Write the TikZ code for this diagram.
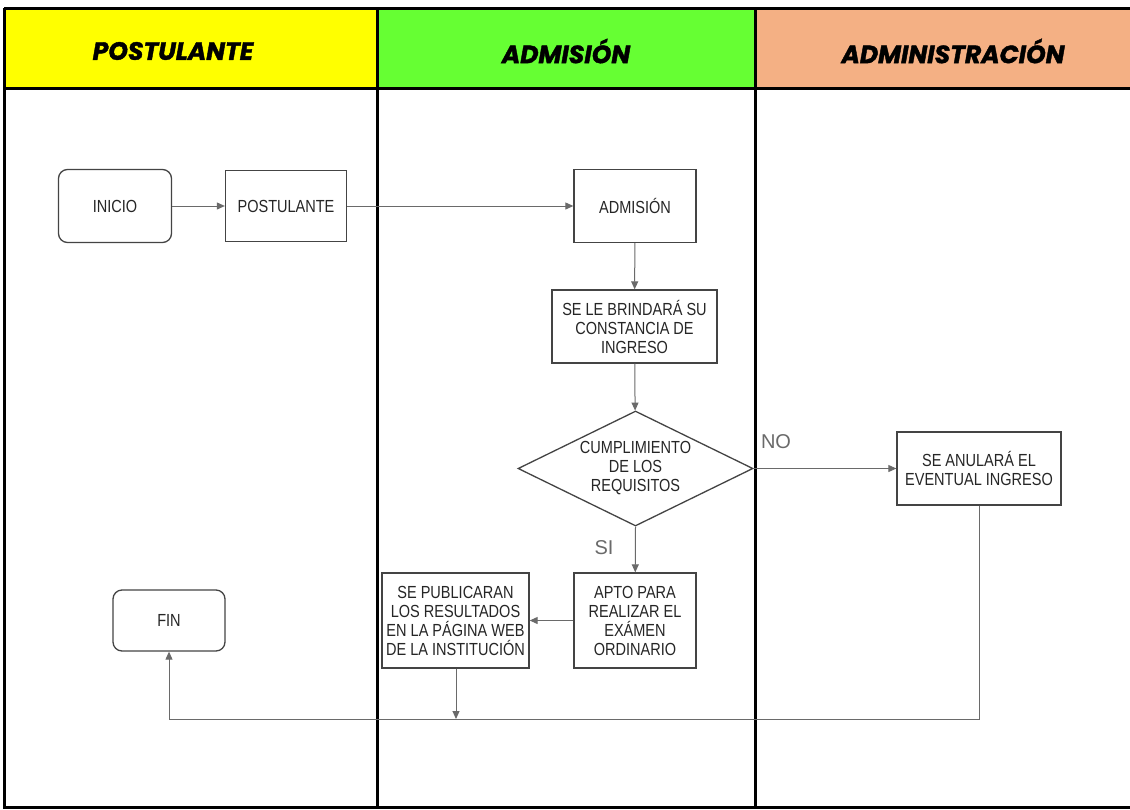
\documentclass[tikz,border=0pt]{standalone}
\usepackage{fontspec}
\setmainfont{Liberation Sans}[FakeStretch=0.83]
\newfontfamily\headfont{Poppins}[BoldItalicFeatures={FakeBold=1.6}]
\newfontfamily\labelfont{Liberation Sans}
\usetikzlibrary{shapes.geometric,arrows.meta,positioning}
\definecolor{laneyellow}{HTML}{FFFF00}
\definecolor{lanegreen}{HTML}{66FF33}
\definecolor{laneorange}{HTML}{F4B084}
\definecolor{boxgray}{HTML}{444444}
\definecolor{flowgray}{HTML}{6A6A6A}
\newcommand{\boxFont}{\fontsize{17.5}{19}\selectfont}

\begin{document}
\begin{tikzpicture}[x=1pt, y=-1pt]
  \tikzset{
    lane/.style={line width=3pt, black},
    lanehead/.style={font=\headfont\bfseries\itshape\fontsize{25}{28}\selectfont},
    process/.style={draw=boxgray, line width=1.3pt, fill=white, align=center,
      font=\boxFont, text=black!85, inner sep=2pt},
    terminal/.style={process, rounded corners=9pt},
    decision/.style={draw=boxgray, line width=1.3pt, diamond, aspect=2.1, align=center,
      font=\boxFont, text=black!85, inner sep=0pt, minimum width=235pt, minimum height=115pt},
    flow/.style={draw=flowgray, line width=1pt, -{Triangle[length=8pt,width=7pt]}},
    plain/.style={draw=flowgray, line width=1pt},
    answer/.style={font=\labelfont\fontsize{20}{22}\selectfont, text=flowgray}
  }
  \useasboundingbox (0,0) rectangle (1130,809);
  \fill[white] (0,0) rectangle (1130,809);
  \fill[laneyellow] (4,8) rectangle (377,88);
  \fill[lanegreen] (377,8) rectangle (755,88);
  \fill[laneorange] (755,8) rectangle (1130,88);
  \node[lanehead] (hpostulante) at (173,51) {POSTULANTE};
  \node[lanehead] (hadmision) at (566,51) {ADMISIÓN};
  \node[lanehead] (hadministracion) at (953,51) {ADMINISTRACIÓN};
  \draw[lane] (4,8) -- (1130,8);
  \draw[lane] (4,88) -- (1130,88);
  \draw[lane] (4,8) -- (4,807) -- (1130,807);
  \draw[lane] (377,8) -- (377,807);
  \draw[lane] (755,8) -- (755,807);

  \node[terminal, minimum width=113pt, minimum height=73pt] (inicio) at (115,206) {INICIO};
  \node[process, minimum width=121pt, minimum height=71pt] (postulante) at (286,206) {POSTULANTE};
  \node[process, minimum width=122pt, minimum height=73pt] (admision) at (635,206) {ADMISIÓN};
  \node[process, minimum width=165pt, minimum height=73pt] (constancia) at (634.5,326.5)
    {SE LE BRINDARÁ SU\\CONSTANCIA DE\\INGRESO};
  \node[decision] (requisitos) at (635.5,468.5) {CUMPLIMIENTO\\DE LOS\\REQUISITOS};
  \node[process, minimum width=164pt, minimum height=73pt] (anulacion) at (979,468.5)
    {SE ANULARÁ EL\\EVENTUAL INGRESO};
  \node[process, minimum width=122pt, minimum height=95pt] (apto) at (635,620.5)
    {APTO PARA\\REALIZAR EL\\EXÁMEN\\ORDINARIO};
  \node[process, minimum width=147pt, minimum height=95pt, inner sep=1pt] (publicacion) at (455.5,620.5)
    {SE PUBLICARAN\\LOS RESULTADOS\\EN LA PÁGINA WEB\\DE LA INSTITUCIÓN};
  \node[terminal, minimum width=112pt, minimum height=61pt] (fin) at (169,620.5) {FIN};
  \node[answer] (no) at (776,442) {NO};
  \node[answer] (si) at (604,548) {SI};

  \coordinate (retorno) at (456,719);
  \coordinate (esquinader) at (979,719);
  \coordinate (esquinaizq) at (169,719);

  \draw[flow] (inicio) -- (postulante);
  \draw[flow] (postulante) -- (admision);
  \draw[flow] (admision) -- (constancia);
  \draw[flow] (constancia) -- (requisitos);
  \draw[flow] (requisitos.east) -- (anulacion);
  \draw[flow] (requisitos.south) -- (apto);
  \draw[flow] (apto) -- (publicacion);
  \draw[flow] (publicacion.south -| retorno) -- (retorno);
  \draw[plain] (anulacion.south) -- (esquinader) -- (esquinaizq);
  \draw[flow] (esquinaizq) -- (fin.south);
\end{tikzpicture}
\end{document}
